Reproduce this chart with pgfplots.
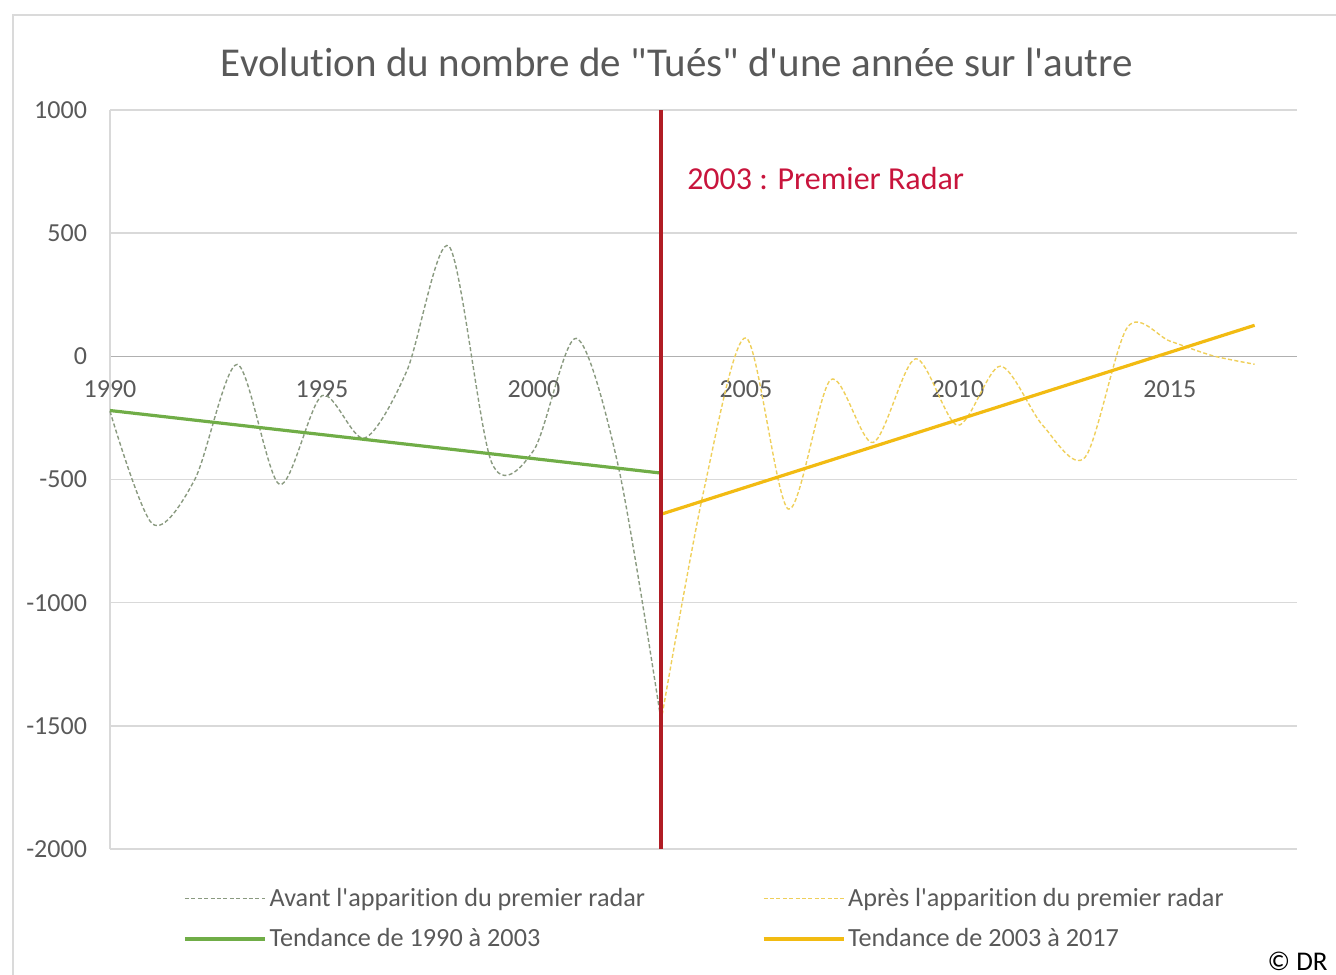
\documentclass[border=0pt]{standalone}
\usepackage{pgfplots}
\pgfplotsset{compat=1.18}
\usepackage{fontspec}
\setmainfont{Carlito}[Ligatures={TeXOff,CommonOff}]
\definecolor{txt}{HTML}{595959}
\definecolor{gridc}{HTML}{D9D9D9}
\definecolor{zeroc}{HTML}{B0B0B0}
\definecolor{avantc}{HTML}{8A9A80}
\definecolor{apresc}{HTML}{EFCF5A}
\definecolor{trendg}{HTML}{70AD47}
\definecolor{trendy}{HTML}{F2BB12}
\definecolor{radarc}{HTML}{B01C24}
\definecolor{annc}{HTML}{C8143C}
\definecolor{borderc}{HTML}{DADADA}

\pgfplotstableread{
year val
1990 -223
1991 -680
1992 -500
1993 -33
1994 -520
1995 -160
1996 -332
1997 -60
1998 446
1999 -430
2000 -380
2001 73
2002 -454
2003 -1480
}\avant

\pgfplotstableread{
year val
2003 -1480
2004 -550
2005 75
2006 -620
2007 -95
2008 -350
2009 -10
2010 -280
2011 -40
2012 -280
2013 -410
2014 118
2015 62
2016 3
2017 -32
}\apres

\begin{document}
\begin{tikzpicture}
\path[use as bounding box] (0pt,0pt) rectangle (668pt,487pt);
\draw[borderc, line width=0.8pt] (6.5pt,-5pt) -- (6.5pt,479.5pt) -- (680pt,479.5pt);
\node[txt, font=\fontsize{20.5}{24}\selectfont] at (338.5pt,456pt) {Evolution du nombre de "Tués" d'une année sur l'autre};
\node[anchor=east, font=\fontsize{13.5}{15}\selectfont, inner sep=0pt] at (664pt,6.5pt) {© DR};
\begin{axis}[
  at={(55pt,62.5pt)}, anchor=south west,
  scale only axis, width=593.5pt, height=369.5pt,
  xmin=1990, xmax=2018, ymin=-2000, ymax=1000,
  axis x line=middle, axis y line=left,
  x axis line style={-, draw=zeroc, line width=0.8pt},
  y axis line style={-, draw=gridc, line width=0.8pt},
  hide obscured x ticks=false, hide obscured y ticks=false,
  xtick={1990,1995,2000,2005,2010,2015},
  ytick={-2000,-1500,-1000,-500,0,500,1000},
  major tick length=0pt,
  ymajorgrids, grid style={gridc, line width=0.8pt},
  /pgf/number format/1000 sep={},
  /pgf/number format/assume math mode=true,
  tick label style={txt, font=\fontsize{13}{15}\selectfont},
  xticklabel style={yshift=-8.5pt},
  yticklabel style={xshift=-8pt},
  legend columns=2,
  legend cell align=left,
  legend style={at={(0.0615,-0.047)}, anchor=north west, draw=none, fill=none,
    font=\fontsize{13.1}{15}\selectfont, text=txt, inner sep=0pt,
    row sep=5.5pt,
    /tikz/every even column/.append style={column sep=57pt},
    nodes={inner xsep=1.5pt}},
  legend image code/.code={\draw[#1] (0pt,0pt) -- (40pt,0pt);},
  clip=false,
]
\addplot[avantc, line width=0.7pt, dash pattern=on 2pt off 1.2pt, smooth, tension=0.5] table[x=year,y=val] {\avant};
\addlegendentry{Avant l'apparition du premier radar}
\addplot[apresc, line width=0.7pt, dash pattern=on 2pt off 1.2pt, smooth, tension=0.5] table[x=year,y=val] {\apres};
\addlegendentry{Après l'apparition du premier radar}
\addplot[trendg, line width=1.6pt] coordinates {(1990,-220) (2003,-474)};
\addlegendentry{Tendance de 1990 à 2003}
\addplot[trendy, line width=1.6pt] coordinates {(2003,-641) (2017,126)};
\addlegendentry{Tendance de 2003 à 2017}
\addplot[radarc, line width=2pt, forget plot] coordinates {(2003,-2000) (2003,1000)};
\node[anchor=west, annc, font=\fontsize{16}{19}\selectfont] at (axis cs:2003.45,722) {2003 : Premier Radar};
\end{axis}
\end{tikzpicture}
\end{document}
